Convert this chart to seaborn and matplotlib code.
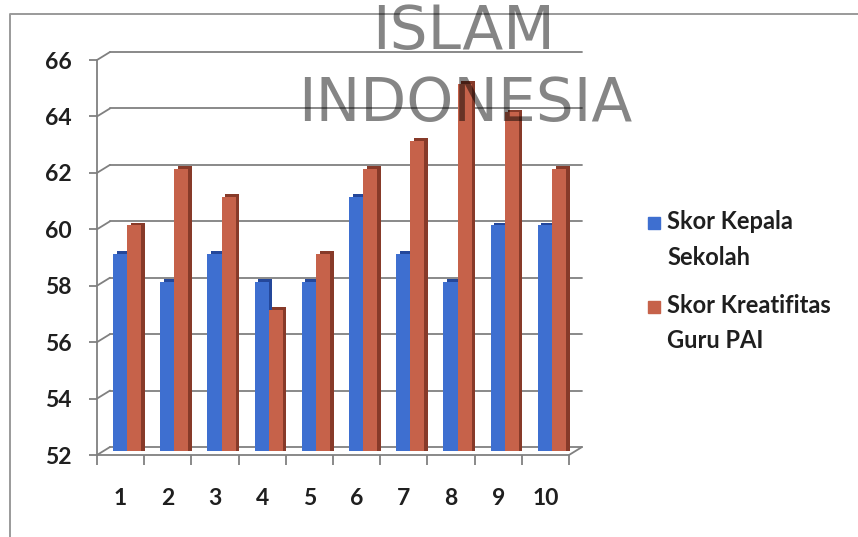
import numpy as np
import pandas as pd
import matplotlib
matplotlib.use("Agg")
import matplotlib.pyplot as plt
import matplotlib.patches as mpatches
import matplotlib.patheffects as pe
from matplotlib.lines import Line2D
from matplotlib.transforms import ScaledTranslation
from matplotlib.legend_handler import HandlerPatch
import seaborn as sns

# Scores per respondent
nomor = ["1", "2", "3", "4", "5", "6", "7", "8", "9", "10"]
skor_kepala = [59, 58, 59, 58, 58, 61, 59, 58, 60, 60]
skor_kreatifitas = [60, 62, 61, 57, 59, 62, 63, 65, 64, 62]
series_names = ["Skor Kepala\nSekolah", "Skor Kreatifitas\nGuru PAI"]
y_ticks = [52, 54, 56, 58, 60, 62, 64, 66]

df = pd.DataFrame({
    "Nomor": nomor * 2,
    "Skor": skor_kepala + skor_kreatifitas,
    "Seri": [series_names[0]] * len(nomor) + [series_names[1]] * len(nomor),
})

sns.set_theme(style="white")
plt.rcParams["font.family"] = ["Lato", "DejaVu Sans"]

BLUE, RED = "#3E6FD0", "#C6624A"
BLUE_DARK, RED_DARK = "#24479A", "#873A29"
GRID = "#808080"
TEXT = "#1f1f1f"

W, H, DPI = 858, 537, 100
fig = plt.figure(figsize=(W / DPI, H / DPI), dpi=DPI)
ax = fig.add_axes([103.5 / W, 1 - 451 / H, 472 / W, 395 / H])

sns.barplot(data=df, x="Nomor", y="Skor", hue="Seri", order=nomor,
            hue_order=series_names, palette=[BLUE, RED], width=0.6,
            saturation=1, linewidth=0, legend=False, ax=ax, zorder=3)

# 3D-like depth on every bar: darker side/top face behind the front face
blue_rgba = matplotlib.colors.to_rgba(BLUE)
for bar in ax.patches:
    fc = bar.get_facecolor()
    dark = BLUE_DARK if abs(fc[2] - blue_rgba[2]) < 0.05 else RED_DARK
    bar.set_path_effects([
        pe.SimplePatchShadow(offset=(2.6, 2.0), shadow_rgbFace=dark, alpha=1.0),
        pe.Normal(),
    ])

ax.set_ylim(52, 66)
ax.set_xlim(-0.5, len(nomor) - 0.5)
ax.set_yticks(y_ticks)
ax.set_xlabel("")
ax.set_ylabel("")
for s in ax.spines.values():
    s.set_visible(False)
ax.patch.set_alpha(0)

# offsets for the back wall and the front edge of the box
back = ScaledTranslation(6.5 / DPI, 4 / DPI, fig.dpi_scale_trans)
front = ScaledTranslation(-6.5 / DPI, -4 / DPI, fig.dpi_scale_trans)

ytr = ax.get_yaxis_transform()
xtr = ax.get_xaxis_transform()
edge = dict(arrowstyle="-", color=GRID, lw=1.3, shrinkA=0, shrinkB=0)

# back-wall gridlines
for y in y_ticks:
    ax.add_line(Line2D([0, 1], [y, y], transform=ytr + back, color=GRID,
                       lw=1.3, clip_on=False, zorder=1))
# side-wall slants from front axis to back wall
for y in y_ticks:
    ax.annotate("", xy=(0, y), xycoords=ytr + back, xytext=(0, y),
                textcoords=ytr + front, arrowprops=edge, zorder=1)
# floor slant at the right end
ax.annotate("", xy=(1, 52), xycoords=ytr + back, xytext=(1, 52),
            textcoords=ytr + front, arrowprops=edge, zorder=4)
# front vertical axis and front floor edge
ax.add_line(Line2D([0, 0], [52, 66], transform=ytr + front, color=GRID,
                   lw=1.3, clip_on=False, zorder=4))
ax.add_line(Line2D([0, 1], [52, 52], transform=ytr + front, color=GRID,
                   lw=1.3, clip_on=False, zorder=4))
# tick marks on the front axes
ax.plot([0] * len(y_ticks), y_ticks, ls="none", marker=0, ms=5.5, mew=1.3,
        color=GRID, transform=ytr + front, clip_on=False, zorder=4)
bounds = np.arange(len(nomor) + 1) - 0.5
ax.plot(bounds, [0] * len(bounds), ls="none", marker=3, ms=7, mew=1.3,
        color=GRID, transform=xtr + front, clip_on=False, zorder=4)

ax.tick_params(axis="y", length=0, pad=18, labelsize=16.5, labelcolor=TEXT)
ax.tick_params(axis="x", length=0, pad=24, labelsize=16.5, labelcolor=TEXT)
for lab in ax.get_yticklabels() + ax.get_xticklabels():
    lab.set_fontweight("bold")
    lab.set_transform(lab.get_transform() + front)

# legend with square keys aligned to the first line of each label
FS = 17


def top_square(legend, orig_handle, xdescent, ydescent, width, height, fontsize):
    return mpatches.Rectangle((-xdescent, -ydescent + 0.76 * fontsize), width, width)


handles = [mpatches.Patch(color=BLUE), mpatches.Patch(color=RED)]
leg = fig.legend(handles, series_names, loc="upper left",
                 bbox_to_anchor=(648 / W, 1 - 210 / H), frameon=False,
                 prop=dict(size=FS, weight="bold"),
                 handlelength=0.52, handleheight=0.52,
                 handletextpad=0.3, labelspacing=1.05, borderpad=0,
                 borderaxespad=0,
                 handler_map={mpatches.Patch: HandlerPatch(patch_func=top_square)})
for t in leg.get_texts():
    t.set_color(TEXT)
    t.set_linespacing(1.67)

# chart frame (top and left edges)
fig.add_artist(Line2D([10 / W, 10 / W, 1], [0, 1 - 14 / H, 1 - 14 / H],
                      transform=fig.transFigure, color="#9a9a9a", lw=1.4))

# watermark
wm = dict(ha="center", va="center", fontsize=43, color="black", alpha=0.48,
          zorder=10, family="DejaVu Sans")
fig.text(464 / W, 1 - 32 / H, "ISLAM", **wm)
fig.text(465 / W, 1 - 104 / H, "INDONESIA", **wm)

fig.savefig("out.png", dpi=DPI)
